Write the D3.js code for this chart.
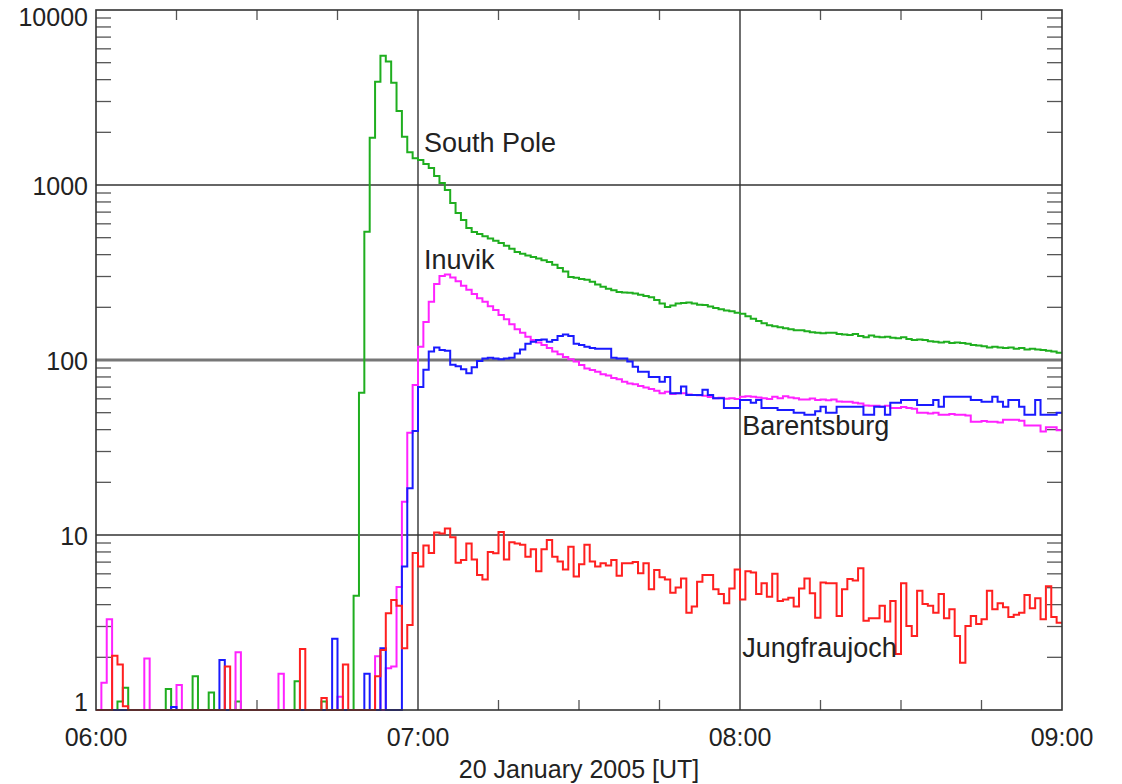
<!DOCTYPE html>
<html>
<head>
<meta charset="UTF-8">
<style>
  body { margin: 0; background: #fff; font-family: "Liberation Sans", Arial, sans-serif; }
  .tick-label { font-size: 25px; fill: #222; }
  .station { font-size: 27px; fill: #222; }
</style>
</head>
<body>
<svg width="1122" height="784"></svg>
<script src="https://d3js.org/d3.v7.min.js"></script>
<script>
// one-minute count bins from 06:00 UT, 0 = empty bin
const greenVals = [
  0,0,0,0,1.12,1.34,0,0,0,0,
  0,0,0,1.32,0,0,0,0,1.56,0,
  0,1.26,0,0,0,0,1.12,0,0,0,
  0,0,0,0,0,0,0,1.46,0,0,
  0,0,1.12,0,0,0,0,0,4.5,65,
  541,1862,3890,5480,5070,3845,2648,1888,1537,1421,
  1390,1318,1250,1126,1027,936,789,692,631,568,
  539,525,510,495,480,466,450,432,414,405,
  395,388,380,372,363,350,335,320,298,295,
  290,287,280,270,262,255,250,245,243,242,
  240,236,232,228,220,210,201,205,210,212,
  213,210,207,206,202,198,195,192,190,186,
  184,178,172,167,162,158,156,154,152,150,
  148,148,146,144,143,142,143,143,141,140,
  139,141,137,135,138,136,135,136,134,133,
  135,132,130,131,130,128,127,126,127,125,
  126,125,124,122,121,120,118,119,118,117,
  118,116,117,115,116,115,114,113,112,110
];
const magentaVals = [
  0,1.43,3.3,0,0,0,0,0,0,1.97,
  0,0,0,0,0,1.39,0,0,0,0,
  0,0,0,0,0,0,2.14,0,0,0,
  0,0,0,0,1.61,0,0,0,0,0,
  0,0,0,0,0,1.19,0,0,0,0,
  0,0,2.03,0,1.73,1.77,5.05,15.5,38.4,72,
  119,165,215,272,302,308,296,282,266,252,
  238,225,215,203,193,181,171,160,150,143,
  136,130,126,122,117,112,108,104,101,98,
  93.6,89.5,87.6,85.7,83,81.5,79,77.5,75,73.4,
  72.8,71,69.7,68.2,66.7,64.5,65.8,64,64.5,64.5,
  63.6,63.2,62.9,62.5,61.5,60.4,60.8,60,60.4,59.8,
  61.6,62,61.6,61,60.4,59.8,61.6,60.4,62,61,
  60.4,59.5,59.5,60.2,59,59.5,58.8,59.5,58,57.8,
  57.8,57,56.5,55,54.7,54.7,54,54.7,53.2,53.2,
  53.8,53.2,52.6,50,50,49.5,50,48.7,48.7,49.2,
  48.7,48.7,48.2,44.4,44.4,44.8,44.4,44.4,44,45.6,
  45.6,45.6,45,42.2,42.2,42.2,39,41.3,41.3,39.7
];
const blueVals = [
  0,0,0,0,0,0,0,0,0,0,
  0,0,0,0,1.04,0,0,0,0,0,
  0,0,0,1.93,0,0,0,0,0,0,
  0,0,0,0,0,0,0,0,0,0,
  0,0,0,0,2.55,0,0,0,0,0,
  1.61,0,0,2.25,0,0,0,6.6,18.5,39.3,
  70,88,112,118,114,113,94,92,88.6,84,
  91,98.6,102,103,102,101,102,103,109,115,
  124,127,130,131,127,130,137,140,137,124,
  122,119,117,116,116,116,103,102,102,98,
  91.6,85.7,85.7,80,80,75,80,64.5,64.5,70.5,
  63,63,63,67.5,63,60.4,60.4,53.2,53.2,53.2,
  59,59,57,59,53.2,53.2,53.2,51.8,51.8,51.8,
  50,50,48.7,48.7,51,54,50,50,54,54,
  54,54,54,48.7,48.7,54,54,48.7,57,57,
  59,59,59,55.4,55.4,55.4,59,54,61.6,61.6,
  61.6,61.6,61.6,59,59,57.8,57.8,61.6,57.8,54,
  59,59,54,48.7,48.7,59,48.7,48.7,48.7,50
];
const redVals = [
  0,0,0,2.04,1.82,1.05,0,0,0,0,
  0,0,0,0,0,0,0,0,0,0,
  0,0,0,0,1.77,0,0,0,0,0,
  0,0,0,0,0,0,0,0,2.23,0,
  0,0,1.17,0,0,0,1.82,0,0,0,
  0,0,1.56,2.2,3.57,4.25,3.94,2.25,3.06,7.9,
  6.6,8.7,7.9,10.35,10.2,10.9,9.7,6.95,7.2,8.95,
  7.25,5.9,5.57,8.0,7.86,10.4,7.25,9.1,8.95,8.8,
  7.5,8.3,6.2,8.3,9.35,7.5,7.05,6.36,8.58,5.8,
  6.8,8.8,7.05,6.6,6.9,6.7,7.2,5.85,6.9,6.9,
  7.0,6.04,6.9,4.9,6.3,5.74,5.57,4.68,5.02,5.65,
  3.6,3.9,5.4,5.9,5.9,4.9,4.6,4.07,4.95,6.36,
  4.28,6.2,6.1,4.6,5.3,4.44,6.0,4.2,4.28,4.38,
  3.9,4.95,5.65,4.64,3.37,5.35,5.3,5.3,3.45,4.9,
  5.6,5.5,6.45,3.24,3.34,3.34,3.94,3.2,4.2,2.09,
  5.3,3.02,2.65,4.8,4.03,3.94,3.6,4.6,3.34,3.76,
  2.65,1.86,3.02,3.45,3.1,3.3,4.8,3.76,4.07,3.86,
  3.4,3.5,3.6,4.54,3.81,4.35,3.3,5.1,3.4,3.15
];

const series = [
  { name: "South Pole",   vals: greenVals,   color: "#1fae1f" },
  { name: "Inuvik",       vals: magentaVals, color: "#ff22ff" },
  { name: "Barentsburg",  vals: blueVals,    color: "#1a1aff" },
  { name: "Jungfraujoch", vals: redVals,     color: "#ff2020" }
];

const stationLabels = [
  { text: "South Pole",   t: 61.1,  v: 1550 },
  { text: "Inuvik",       t: 61.1,  v: 330 },
  { text: "Barentsburg",  t: 120.4, v: 37.5 },
  { text: "Jungfraujoch", t: 120.4, v: 2.0 }
];

const xTickMinutes = [0, 60, 120, 180];
const xTickLabels = ["06:00", "07:00", "08:00", "09:00"];
const yTickValues = [1, 10, 100, 1000, 10000];
const yTickLabels = ["1", "10", "100", "1000", "10000"];

const plotLeft = 96, plotRight = 1062, plotTop = 10, plotBottom = 710;

const svg = d3.select("svg");

const x = d3.scaleLinear().domain([0, 180]).range([plotLeft, plotRight]);
const y = d3.scaleLog().domain([1, 10000]).range([plotBottom, plotTop]);

// minor ticks
const minorY = [];
for (let e = 0; e < 4; e++)
  for (let m = 2; m <= 9; m++) minorY.push(m * Math.pow(10, e));

let ticks = svg.append("g").attr("stroke", "#555").attr("stroke-width", 1.3);
minorY.forEach(v => {
  ticks.append("line").attr("x1", plotLeft).attr("x2", plotLeft + 15).attr("y1", y(v)).attr("y2", y(v));
  ticks.append("line").attr("x1", plotRight - 15).attr("x2", plotRight).attr("y1", y(v)).attr("y2", y(v));
});
d3.range(15, 180, 15).filter(m => m % 60 != 0).forEach(m => {
  ticks.append("line").attr("x1", x(m)).attr("x2", x(m)).attr("y1", plotBottom).attr("y2", plotBottom - 10);
  ticks.append("line").attr("x1", x(m)).attr("x2", x(m)).attr("y1", plotTop).attr("y2", plotTop + 10);
});

// grid lines
let grid = svg.append("g");
[10, 1000].forEach(v => {
  grid.append("line").attr("x1", plotLeft).attr("x2", plotRight).attr("y1", y(v)).attr("y2", y(v))
    .attr("stroke", "#333").attr("stroke-width", 1.4);
});
grid.append("line").attr("x1", plotLeft).attr("x2", plotRight).attr("y1", y(100)).attr("y2", y(100))
  .attr("stroke", "#777").attr("stroke-width", 3);
[60, 120].forEach(m => {
  grid.append("line").attr("x1", x(m)).attr("x2", x(m)).attr("y1", plotTop).attr("y2", plotBottom)
    .attr("stroke", "#333").attr("stroke-width", 1.4);
});

// step histograms
const line = d3.line()
  .x((d, i) => x(i))
  .y(d => y(Math.max(d, 1)))
  .curve(d3.curveStepAfter);

svg.append("g")
  .selectAll("path")
  .data(series)
  .join("path")
    .attr("d", d => line(d.vals.concat([d.vals[d.vals.length - 1]])))
    .attr("fill", "none")
    .attr("stroke", d => d.color)
    .attr("stroke-width", 2);

// frame
svg.append("rect")
  .attr("x", plotLeft).attr("y", plotTop)
  .attr("width", plotRight - plotLeft).attr("height", plotBottom - plotTop)
  .attr("fill", "none").attr("stroke", "#333").attr("stroke-width", 1.6);

// y labels
svg.append("g").selectAll("text")
  .data(yTickValues)
  .join("text")
    .attr("class", "tick-label")
    .attr("text-anchor", "end")
    .attr("x", 88)
    .attr("y", v => Math.min(Math.max(y(v) + 10, 26), 711))
    .text((v, i) => yTickLabels[i]);

// x labels
svg.append("g").selectAll("text")
  .data(xTickMinutes)
  .join("text")
    .attr("class", "tick-label")
    .attr("text-anchor", "middle")
    .attr("x", m => x(m))
    .attr("y", 746)
    .text((m, i) => xTickLabels[i]);

svg.append("text")
  .attr("class", "tick-label")
  .attr("text-anchor", "middle")
  .attr("x", 579)
  .attr("y", 778)
  .text("20 January 2005 [UT]");

// station names
svg.append("g").selectAll("text")
  .data(stationLabels)
  .join("text")
    .attr("class", "station")
    .attr("x", d => x(d.t))
    .attr("y", d => y(d.v))
    .text(d => d.text);
</script>
</body>
</html>
